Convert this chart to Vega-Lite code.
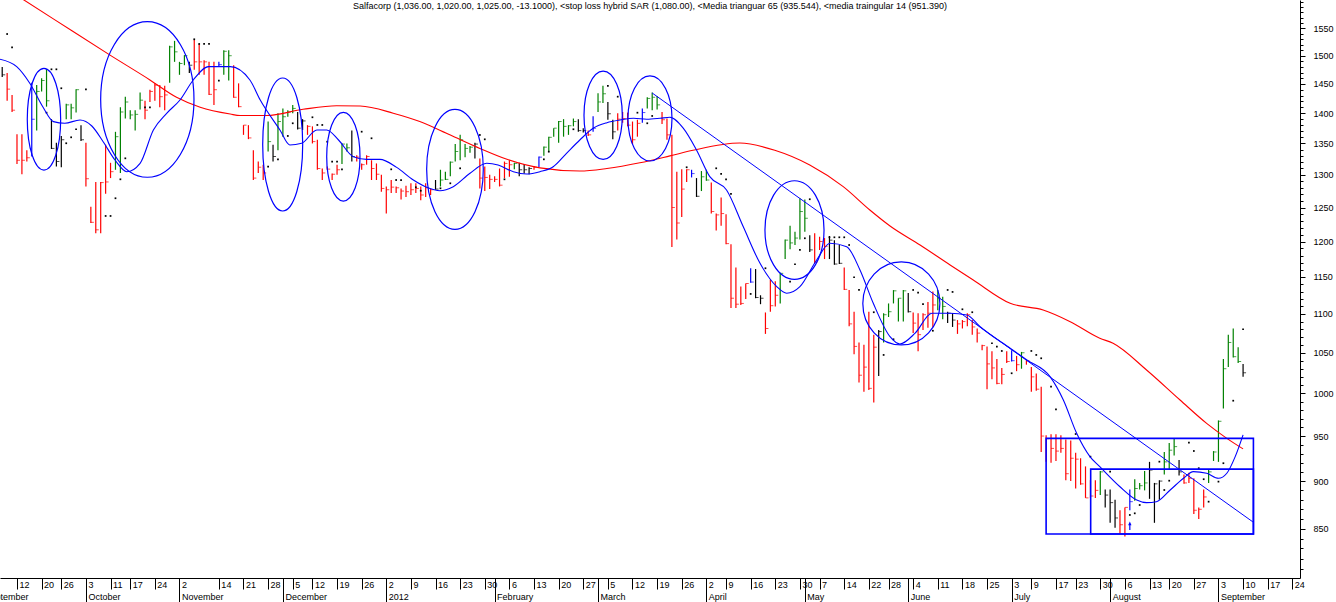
{
  "$schema": "https://vega.github.io/schema/vega-lite/v6.json",
  "width": 1300,
  "height": 578,
  "autosize": "none",
  "padding": {"left": 0, "top": 0, "right": 36, "bottom": 24},
  "background": "white",
  "title": {
    "text": "Salfacorp (1,036.00, 1,020.00, 1,025.00, -13.1000), <stop loss hybrid SAR (1,080.00), <Media trianguar 65 (935.544), <media traingular 14 (951.390)",
    "font": "Liberation Sans", "fontSize": 9, "fontWeight": "normal", "color": "#000000",
    "anchor": "middle", "offset": -11
  },
  "config": {
    "view": {"stroke": null},
    "axis": {"grid": false, "labelFont": "Liberation Sans", "labelFontSize": 9, "labelColor": "#000000",
             "tickColor": "#000000", "domainColor": "#000000", "labelOverlap": false, "labelFlush": false, "labelBound": false}
  },
  "datasets": {
    "bars": [
      {"t":-3,"h":1480,"l":1462,"c":1466,"k":"flat"},{"t":-2,"h":1469,"l":1421,"c":1441,"k":"down"},{"t":-1,"h":1431,"l":1402,"c":1405,"k":"down"},
      {"t":0,"h":1365,"l":1317,"c":1323,"k":"down"},{"t":1,"h":1365,"l":1301,"c":1323,"k":"down"},{"t":2,"h":1339,"l":1321,"c":1327,"k":"down"},
      {"t":3,"h":1452,"l":1329,"c":1390,"k":"mark"},{"t":4,"h":1448,"l":1371,"c":1437,"k":"up"},{"t":5,"h":1460,"l":1437,"c":1456,"k":"up"},
      {"t":6,"h":1476,"l":1411,"c":1421,"k":"up"},{"t":7,"h":1390,"l":1341,"c":1342,"k":"flat"},{"t":8,"h":1351,"l":1313,"c":1321,"k":"flat"},
      {"t":9,"h":1362,"l":1312,"c":1356,"k":"flat"},{"t":10,"h":1416,"l":1390,"c":1414,"k":"up"},{"t":11,"h":1416,"l":1390,"c":1409,"k":"up"},
      {"t":12,"h":1441,"l":1401,"c":1440,"k":"up"},{"t":13,"h":1380,"l":1354,"c":1356,"k":"flat"},{"t":14,"h":1351,"l":1282,"c":1294,"k":"down"},
      {"t":15,"h":1251,"l":1227,"c":1228,"k":"down"},{"t":16,"h":1289,"l":1212,"c":1217,"k":"down"},{"t":17,"h":1289,"l":1212,"c":1288,"k":"down"},
      {"t":18,"h":1348,"l":1271,"c":1289,"k":"down"},{"t":19,"h":1319,"l":1295,"c":1305,"k":"down"},{"t":20,"h":1369,"l":1308,"c":1361,"k":"up"},
      {"t":21,"h":1410,"l":1303,"c":1402,"k":"up"},{"t":22,"h":1428,"l":1391,"c":1419,"k":"up"},{"t":23,"h":1405,"l":1390,"c":1397,"k":"up"},
      {"t":24,"h":1405,"l":1371,"c":1398,"k":"up"},{"t":25,"h":1435,"l":1406,"c":1422,"k":"up"},{"t":26,"h":1421,"l":1390,"c":1405,"k":"down"},
      {"t":27,"h":1440,"l":1419,"c":1437,"k":"down"},{"t":28,"h":1451,"l":1421,"c":1448,"k":"down"},{"t":29,"h":1448,"l":1410,"c":1428,"k":"down"},
      {"t":30,"h":1447,"l":1405,"c":1431,"k":"down"},{"t":31,"h":1518,"l":1452,"c":1516,"k":"up"},{"t":32,"h":1527,"l":1489,"c":1507,"k":"up"},
      {"t":33,"h":1489,"l":1466,"c":1486,"k":"up"},{"t":34,"h":1501,"l":1483,"c":1500,"k":"up"},{"t":35,"h":1489,"l":1469,"c":1483,"k":"flat"},
      {"t":36,"h":1529,"l":1475,"c":1489,"k":"down"},{"t":37,"h":1521,"l":1466,"c":1489,"k":"down"},{"t":38,"h":1492,"l":1466,"c":1489,"k":"down"},
      {"t":39,"h":1489,"l":1431,"c":1432,"k":"down"},{"t":40,"h":1489,"l":1414,"c":1440,"k":"down"},{"t":41,"h":1489,"l":1480,"c":1484,"k":"mark"},
      {"t":42,"h":1510,"l":1466,"c":1508,"k":"up"},{"t":43,"h":1510,"l":1456,"c":1500,"k":"up"},{"t":44,"h":1483,"l":1426,"c":1427,"k":"down"},
      {"t":45,"h":1451,"l":1410,"c":1411,"k":"down"},{"t":46,"h":1380,"l":1364,"c":1380,"k":"down"},{"t":47,"h":1380,"l":1357,"c":1359,"k":"down"},
      {"t":48,"h":1339,"l":1292,"c":1295,"k":"down"},{"t":49,"h":1321,"l":1303,"c":1312,"k":"down"},{"t":50,"h":1316,"l":1292,"c":1303,"k":"down"},
      {"t":51,"h":1386,"l":1337,"c":1353,"k":"up"},{"t":52,"h":1348,"l":1321,"c":1329,"k":"flat"},{"t":53,"h":1400,"l":1339,"c":1386,"k":"up"},
      {"t":54,"h":1408,"l":1361,"c":1394,"k":"up"},{"t":55,"h":1405,"l":1394,"c":1402,"k":"up"},{"t":56,"h":1414,"l":1400,"c":1408,"k":"up"},
      {"t":57,"h":1402,"l":1373,"c":1375,"k":"flat"},{"t":58,"h":1390,"l":1372,"c":1387,"k":"flat"},{"t":59,"h":1380,"l":1364,"c":1378,"k":"down"},
      {"t":60,"h":1378,"l":1350,"c":1353,"k":"down"},{"t":61,"h":1356,"l":1308,"c":1310,"k":"down"},{"t":62,"h":1310,"l":1292,"c":1303,"k":"down"},
      {"t":63,"h":1313,"l":1308,"c":1309,"k":"down"},{"t":64,"h":1302,"l":1292,"c":1301,"k":"down"},{"t":65,"h":1316,"l":1300,"c":1308,"k":"down"},
      {"t":66,"h":1350,"l":1317,"c":1349,"k":"up"},{"t":67,"h":1350,"l":1337,"c":1343,"k":"up"},{"t":68,"h":1371,"l":1321,"c":1329,"k":"flat"},
      {"t":69,"h":1331,"l":1321,"c":1328,"k":"down"},{"t":70,"h":1318,"l":1308,"c":1316,"k":"down"},{"t":71,"h":1331,"l":1316,"c":1329,"k":"down"},
      {"t":72,"h":1323,"l":1292,"c":1310,"k":"down"},{"t":73,"h":1318,"l":1292,"c":1301,"k":"down"},{"t":74,"h":1300,"l":1274,"c":1279,"k":"down"},
      {"t":75,"h":1282,"l":1241,"c":1277,"k":"down"},{"t":76,"h":1292,"l":1272,"c":1281,"k":"down"},{"t":77,"h":1282,"l":1272,"c":1280,"k":"down"},
      {"t":78,"h":1279,"l":1262,"c":1275,"k":"down"},{"t":79,"h":1283,"l":1266,"c":1274,"k":"down"},{"t":80,"h":1287,"l":1269,"c":1277,"k":"down"},
      {"t":81,"h":1287,"l":1272,"c":1279,"k":"down"},{"t":82,"h":1282,"l":1261,"c":1269,"k":"down"},{"t":83,"h":1287,"l":1266,"c":1280,"k":"down"},
      {"t":84,"h":1279,"l":1269,"c":1277,"k":"down"},{"t":85,"h":1292,"l":1277,"c":1278,"k":"flat"},{"t":86,"h":1308,"l":1282,"c":1292,"k":"up"},
      {"t":87,"h":1305,"l":1292,"c":1293,"k":"up"},{"t":88,"h":1321,"l":1298,"c":1320,"k":"up"},{"t":89,"h":1349,"l":1321,"c":1337,"k":"up"},
      {"t":90,"h":1364,"l":1323,"c":1356,"k":"up"},{"t":91,"h":1349,"l":1328,"c":1342,"k":"up"},{"t":92,"h":1346,"l":1335,"c":1344,"k":"up"},
      {"t":93,"h":1351,"l":1326,"c":1349,"k":"flat"},{"t":94,"h":1326,"l":1279,"c":1295,"k":"down"},{"t":95,"h":1313,"l":1275,"c":1296,"k":"down"},
      {"t":96,"h":1300,"l":1278,"c":1293,"k":"down"},{"t":97,"h":1298,"l":1289,"c":1293,"k":"down"},{"t":98,"h":1310,"l":1282,"c":1284,"k":"down"},
      {"t":99,"h":1321,"l":1295,"c":1318,"k":"down"},{"t":100,"h":1323,"l":1297,"c":1316,"k":"down"},{"t":101,"h":1319,"l":1309,"c":1318,"k":"up"},
      {"t":102,"h":1319,"l":1298,"c":1308,"k":"flat"},{"t":103,"h":1317,"l":1302,"c":1308,"k":"flat"},{"t":104,"h":1312,"l":1301,"c":1310,"k":"flat"},
      {"t":105,"h":1314,"l":1308,"c":1312,"k":"down"},{"t":106,"h":1329,"l":1312,"c":1328,"k":"mark"},{"t":107,"h":1345,"l":1330,"c":1344,"k":"up"},
      {"t":108,"h":1361,"l":1337,"c":1360,"k":"up"},{"t":109,"h":1375,"l":1361,"c":1375,"k":"up"},{"t":110,"h":1387,"l":1351,"c":1386,"k":"up"},
      {"t":111,"h":1390,"l":1361,"c":1378,"k":"up"},{"t":112,"h":1380,"l":1364,"c":1379,"k":"up"},{"t":113,"h":1391,"l":1378,"c":1386,"k":"up"},
      {"t":114,"h":1390,"l":1369,"c":1371,"k":"flat"},{"t":115,"h":1375,"l":1368,"c":1371,"k":"flat"},{"t":116,"h":1371,"l":1362,"c":1364,"k":"down"},
      {"t":117,"h":1395,"l":1369,"c":1375,"k":"mark"},{"t":118,"h":1434,"l":1402,"c":1419,"k":"up"},{"t":119,"h":1447,"l":1417,"c":1433,"k":"up"},
      {"t":120,"h":1419,"l":1389,"c":1399,"k":"flat"},{"t":121,"h":1389,"l":1357,"c":1369,"k":"flat"},{"t":122,"h":1400,"l":1371,"c":1390,"k":"down"},
      {"t":123,"h":1402,"l":1384,"c":1391,"k":"down"},{"t":124,"h":1401,"l":1378,"c":1380,"k":"down"},{"t":125,"h":1386,"l":1349,"c":1356,"k":"down"},
      {"t":126,"h":1389,"l":1361,"c":1383,"k":"down"},{"t":127,"h":1408,"l":1384,"c":1401,"k":"mark"},{"t":128,"h":1427,"l":1408,"c":1425,"k":"up"},
      {"t":129,"h":1435,"l":1405,"c":1427,"k":"up"},{"t":130,"h":1429,"l":1406,"c":1414,"k":"up"},{"t":131,"h":1402,"l":1382,"c":1389,"k":"down"},
      {"t":132,"h":1391,"l":1356,"c":1364,"k":"down"},{"t":133,"h":1364,"l":1192,"c":1250,"k":"down"},{"t":134,"h":1305,"l":1203,"c":1227,"k":"down"},
      {"t":135,"h":1309,"l":1236,"c":1278,"k":"down"},{"t":136,"h":1309,"l":1289,"c":1308,"k":"down"},{"t":137,"h":1308,"l":1296,"c":1302,"k":"mark"},
      {"t":138,"h":1295,"l":1266,"c":1267,"k":"flat"},{"t":139,"h":1306,"l":1275,"c":1297,"k":"up"},{"t":140,"h":1308,"l":1291,"c":1292,"k":"up"},
      {"t":141,"h":1288,"l":1241,"c":1244,"k":"down"},{"t":142,"h":1241,"l":1216,"c":1239,"k":"down"},{"t":143,"h":1265,"l":1223,"c":1241,"k":"down"},
      {"t":144,"h":1240,"l":1196,"c":1197,"k":"down"},{"t":145,"h":1196,"l":1108,"c":1121,"k":"down"},{"t":146,"h":1163,"l":1108,"c":1113,"k":"down"},
      {"t":147,"h":1137,"l":1112,"c":1114,"k":"down"},{"t":148,"h":1141,"l":1120,"c":1141,"k":"down"},{"t":149,"h":1162,"l":1142,"c":1143,"k":"mark"},
      {"t":150,"h":1161,"l":1121,"c":1122,"k":"flat"},{"t":151,"h":1125,"l":1113,"c":1121,"k":"flat"},{"t":152,"h":1102,"l":1074,"c":1081,"k":"down"},
      {"t":153,"h":1146,"l":1103,"c":1111,"k":"down"},{"t":154,"h":1144,"l":1110,"c":1125,"k":"down"},{"t":155,"h":1156,"l":1114,"c":1155,"k":"up"},
      {"t":156,"h":1203,"l":1175,"c":1202,"k":"up"},{"t":157,"h":1223,"l":1189,"c":1198,"k":"up"},{"t":158,"h":1214,"l":1195,"c":1205,"k":"up"},
      {"t":159,"h":1264,"l":1203,"c":1244,"k":"up"},{"t":160,"h":1262,"l":1214,"c":1234,"k":"up"},{"t":161,"h":1209,"l":1185,"c":1188,"k":"flat"},
      {"t":162,"h":1212,"l":1169,"c":1171,"k":"down"},{"t":163,"h":1207,"l":1188,"c":1200,"k":"down"},{"t":164,"h":1205,"l":1175,"c":1193,"k":"down"},
      {"t":165,"h":1208,"l":1175,"c":1202,"k":"flat"},{"t":166,"h":1202,"l":1167,"c":1168,"k":"flat"},{"t":167,"h":1195,"l":1168,"c":1169,"k":"flat"},
      {"t":168,"h":1163,"l":1132,"c":1133,"k":"down"},{"t":169,"h":1132,"l":1084,"c":1087,"k":"down"},{"t":170,"h":1103,"l":1048,"c":1058,"k":"down"},
      {"t":171,"h":1063,"l":1013,"c":1022,"k":"down"},{"t":172,"h":1060,"l":1002,"c":1032,"k":"down"},{"t":173,"h":1103,"l":1004,"c":1006,"k":"down"},
      {"t":174,"h":1073,"l":989,"c":1057,"k":"down"},{"t":175,"h":1079,"l":1021,"c":1077,"k":"flat"},{"t":176,"h":1101,"l":1063,"c":1099,"k":"up"},
      {"t":177,"h":1114,"l":1096,"c":1103,"k":"up"},{"t":178,"h":1132,"l":1114,"c":1131,"k":"up"},{"t":179,"h":1121,"l":1090,"c":1121,"k":"up"},
      {"t":180,"h":1132,"l":1090,"c":1131,"k":"up"},{"t":181,"h":1128,"l":1102,"c":1103,"k":"flat"},{"t":182,"h":1102,"l":1075,"c":1088,"k":"down"},
      {"t":183,"h":1101,"l":1052,"c":1073,"k":"down"},{"t":184,"h":1101,"l":1079,"c":1099,"k":"down"},{"t":185,"h":1116,"l":1082,"c":1101,"k":"down"},
      {"t":186,"h":1130,"l":1083,"c":1112,"k":"down"},{"t":187,"h":1132,"l":1105,"c":1121,"k":"up"},{"t":188,"h":1123,"l":1093,"c":1110,"k":"up"},
      {"t":189,"h":1103,"l":1088,"c":1101,"k":"flat"},{"t":190,"h":1101,"l":1083,"c":1092,"k":"flat"},{"t":191,"h":1092,"l":1074,"c":1087,"k":"down"},
      {"t":192,"h":1092,"l":1081,"c":1090,"k":"down"},{"t":193,"h":1101,"l":1084,"c":1099,"k":"down"},{"t":194,"h":1092,"l":1073,"c":1083,"k":"down"},
      {"t":195,"h":1081,"l":1063,"c":1075,"k":"down"},{"t":196,"h":1060,"l":1053,"c":1059,"k":"down"},{"t":197,"h":1058,"l":1005,"c":1036,"k":"down"},
      {"t":198,"h":1052,"l":1017,"c":1031,"k":"down"},{"t":199,"h":1042,"l":1011,"c":1012,"k":"down"},{"t":200,"h":1031,"l":1011,"c":1023,"k":"down"},
      {"t":201,"h":1052,"l":1037,"c":1039,"k":"down"},{"t":202,"h":1053,"l":1039,"c":1040,"k":"mark"},{"t":203,"h":1046,"l":1027,"c":1035,"k":"down"},
      {"t":204,"h":1051,"l":1030,"c":1050,"k":"up"},{"t":205,"h":1041,"l":1035,"c":1040,"k":"down"},{"t":206,"h":1032,"l":1002,"c":1020,"k":"down"},
      {"t":207,"h":1024,"l":1003,"c":1005,"k":"down"},{"t":208,"h":1008,"l":932,"c":950,"k":"down"},{"t":209,"h":951,"l":921,"c":947,"k":"down"},
      {"t":210,"h":952,"l":920,"c":936,"k":"down"},{"t":211,"h":952,"l":922,"c":933,"k":"down"},{"t":212,"h":951,"l":931,"c":936,"k":"down"},
      {"t":213,"h":946,"l":901,"c":908,"k":"down"},{"t":214,"h":945,"l":900,"c":925,"k":"down"},{"t":215,"h":931,"l":892,"c":924,"k":"down"},
      {"t":216,"h":925,"l":896,"c":897,"k":"down"},{"t":217,"h":916,"l":882,"c":882,"k":"down"},{"t":218,"h":901,"l":882,"c":884,"k":"down"},
      {"t":219,"h":901,"l":882,"c":890,"k":"down"},{"t":220,"h":911,"l":885,"c":910,"k":"up"},{"t":221,"h":891,"l":872,"c":885,"k":"flat"},
      {"t":222,"h":891,"l":856,"c":877,"k":"flat"},{"t":223,"h":880,"l":851,"c":861,"k":"flat"},{"t":224,"h":869,"l":845,"c":854,"k":"down"},
      {"t":225,"h":872,"l":842,"c":872,"k":"down"},{"t":226,"h":891,"l":869,"c":878,"k":"mark"},{"t":227,"h":902,"l":879,"c":892,"k":"up"},
      {"t":228,"h":898,"l":891,"c":895,"k":"up"},{"t":229,"h":911,"l":890,"c":898,"k":"up"},{"t":230,"h":921,"l":881,"c":912,"k":"flat"},
      {"t":231,"h":898,"l":856,"c":897,"k":"flat"},{"t":232,"h":901,"l":880,"c":900,"k":"flat"},{"t":233,"h":932,"l":907,"c":921,"k":"up"},
      {"t":234,"h":942,"l":913,"c":934,"k":"up"},{"t":235,"h":947,"l":928,"c":938,"k":"up"},{"t":236,"h":923,"l":906,"c":910,"k":"flat"},
      {"t":237,"h":907,"l":897,"c":898,"k":"down"},{"t":238,"h":909,"l":898,"c":903,"k":"down"},{"t":239,"h":903,"l":865,"c":869,"k":"down"},
      {"t":240,"h":872,"l":860,"c":870,"k":"down"},{"t":241,"h":891,"l":872,"c":883,"k":"down"},{"t":242,"h":912,"l":898,"c":910,"k":"up"},
      {"t":243,"h":933,"l":922,"c":932,"k":"up"},{"t":244,"h":968,"l":921,"c":967,"k":"up"},{"t":245,"h":1042,"l":982,"c":1030,"k":"up"},
      {"t":246,"h":1073,"l":1032,"c":1063,"k":"up"},{"t":247,"h":1081,"l":1044,"c":1045,"k":"up"},{"t":248,"h":1057,"l":1037,"c":1039,"k":"up"},
      {"t":249,"h":1036,"l":1020,"c":1025,"k":"flat"}
    ],
    "sar": [
      {"t":-2,"p":1539.6},{"t":-1,"p":1515.2},{"t":6,"p":1400.8},{"t":7,"p":1475.7},{"t":8,"p":1475.7},{"t":9,"p":1442.5},
      {"t":10,"p":1350.3},{"t":11,"p":1360},{"t":12,"p":1373.2},{"t":14,"p":1440.7},{"t":18,"p":1237.4},{"t":19,"p":1237.4},
      {"t":20,"p":1264},{"t":21,"p":1293.1},{"t":22,"p":1326.1},{"t":26,"p":1409.9},{"t":27,"p":1409.9},{"t":36,"p":1529.9},
      {"t":37,"p":1521.3},{"t":38,"p":1521.3},{"t":39,"p":1521.3},{"t":41,"p":1455.7},{"t":51,"p":1312.8},{"t":53,"p":1324.5},
      {"t":55,"p":1362.2},{"t":56,"p":1383.1},{"t":60,"p":1393.1},{"t":61,"p":1380.3},{"t":62,"p":1380.3},{"t":63,"p":1352.8},
      {"t":64,"p":1320.7},{"t":65,"p":1320.7},{"t":66,"p":1308.7},{"t":70,"p":1369.2},{"t":72,"p":1358.4},{"t":76,"p":1308.7},
      {"t":77,"p":1292},{"t":78,"p":1292},{"t":81,"p":1280.8},{"t":82,"p":1275.5},{"t":86,"p":1279.2},{"t":88,"p":1286.9},
      {"t":90,"p":1310.3},{"t":94,"p":1363.8},{"t":95,"p":1356.7},{"t":99,"p":1293.1},{"t":107,"p":1324.5},{"t":108,"p":1336.7},
      {"t":113,"p":1373.2},{"t":120,"p":1446.5},{"t":122,"p":1428},{"t":126,"p":1400.8},{"t":128,"p":1383.1},{"t":129,"p":1395.3},
      {"t":136,"p":1311.9},{"t":142,"p":1310.3},{"t":143,"p":1301.4},{"t":144,"p":1293.1},{"t":145,"p":1270.5},{"t":149,"p":1126.8},
      {"t":152,"p":1162.1},{"t":157,"p":1143.5},{"t":158,"p":1167.7},{"t":159,"p":1187.9},{"t":160,"p":1204.7},{"t":161,"p":1262.5},
      {"t":165,"p":1206.1},{"t":166,"p":1206.1},{"t":167,"p":1206.1},{"t":168,"p":1206.1},{"t":169,"p":1195},{"t":170,"p":1149.6},
      {"t":171,"p":1132.2},{"t":174,"p":1102.3},{"t":176,"p":1047.2},{"t":178,"p":1067.1},{"t":182,"p":1132.2},{"t":183,"p":1128.5},
      {"t":184,"p":1113.2},{"t":186,"p":1078.1},{"t":189,"p":1132.2},{"t":190,"p":1129.5},{"t":192,"p":1106.2},{"t":194,"p":1102.3},
      {"t":198,"p":1062},{"t":199,"p":1057.6},{"t":200,"p":1052.2},{"t":202,"p":1024.4},{"t":206,"p":1052.2},{"t":207,"p":1047.2},
      {"t":208,"p":1043},{"t":210,"p":1008},{"t":211,"p":981},{"t":215,"p":952.3},{"t":218,"p":926.8},{"t":222,"p":910.2},
      {"t":226,"p":864.1},{"t":227,"p":865.8},{"t":228,"p":874.5},{"t":232,"p":921.2},{"t":233,"p":890.4},{"t":234,"p":900.4},
      {"t":238,"p":942.4},{"t":239,"p":933.1},{"t":240,"p":914},{"t":241,"p":902},{"t":242,"p":878},{"t":244,"p":899.4},
      {"t":245,"p":919.5},{"t":247,"p":991.2},{"t":249,"p":1080}
    ],
    "ma65": [
      {"t":-1.4,"p":1621},{"t":7.7,"p":1566},{"t":18.9,"p":1501},{"t":27,"p":1457},{"t":32.4,"p":1427},{"t":37.2,"p":1410},
      {"t":43.3,"p":1398.5},{"t":45.3,"p":1396},{"t":50.7,"p":1396},{"t":58.1,"p":1406.5},{"t":64.9,"p":1412.6},{"t":69.7,"p":1412},
      {"t":76.4,"p":1400},{"t":81.8,"p":1386},{"t":87.9,"p":1364},{"t":94,"p":1342},{"t":99.5,"p":1324.5},{"t":106.2,"p":1311},
      {"t":114.3,"p":1306},{"t":119.8,"p":1310},{"t":126.5,"p":1319},{"t":132.6,"p":1330},{"t":137.3,"p":1339},{"t":146.8,"p":1350.7},
      {"t":153.9,"p":1339},{"t":161,"p":1315.5},{"t":167.8,"p":1281.7},{"t":173.2,"p":1246.3},{"t":177.3,"p":1222.6},{"t":183.4,"p":1195},
      {"t":189.5,"p":1166.7},{"t":194.2,"p":1145.8},{"t":201.7,"p":1114.2},{"t":208.4,"p":1105.3},{"t":213.9,"p":1089.9},{"t":219.9,"p":1068.4},
      {"t":222.6,"p":1062},{"t":229.4,"p":1028.4},{"t":236.2,"p":992},{"t":241.6,"p":964.6},{"t":245.7,"p":947.4},{"t":249,"p":935.5}
    ],
    "ma14": [
      {"t":-3.45,"p":1493.6},{"t":-0.06,"p":1480.4},{"t":2.6,"p":1451.2},{"t":5.3,"p":1409.9},{"t":7.4,"p":1385.8},{"t":9.7,"p":1383.1},
      {"t":12.8,"p":1388.6},{"t":15.2,"p":1378.6},{"t":17.5,"p":1352.8},{"t":19.9,"p":1323.4},{"t":22.3,"p":1305},{"t":25,"p":1318.2},
      {"t":27.7,"p":1372},{"t":30.4,"p":1399.8},{"t":33.1,"p":1422.3},{"t":35.8,"p":1456.9},{"t":38.9,"p":1480.4},{"t":43.3,"p":1480.4},
      {"t":47.3,"p":1456.9},{"t":49.4,"p":1422.3},{"t":53.4,"p":1372},{"t":55.4,"p":1347.5},{"t":57.8,"p":1350.2},{"t":60.9,"p":1372},
      {"t":62.9,"p":1372},{"t":65.3,"p":1355.6},{"t":68.3,"p":1328.7},{"t":71,"p":1324.5},{"t":73.7,"p":1324.5},{"t":77.1,"p":1311.8},
      {"t":80.5,"p":1292},{"t":83.2,"p":1280.8},{"t":85.9,"p":1275.5},{"t":88.6,"p":1281.7},{"t":92,"p":1302.5},{"t":95.4,"p":1318.2},
      {"t":97.7,"p":1315.5},{"t":100.8,"p":1305},{"t":103.5,"p":1301.4},{"t":106.2,"p":1305},{"t":108.9,"p":1312.8},{"t":111.6,"p":1334.1},
      {"t":114.3,"p":1355.6},{"t":117,"p":1374.8},{"t":119.8,"p":1384.1},{"t":122.5,"p":1388.6},{"t":125.2,"p":1391.4},{"t":127.9,"p":1389.8},
      {"t":130.6,"p":1391.4},{"t":132.6,"p":1393.1},{"t":135.3,"p":1375},{"t":138,"p":1339.4},{"t":140.7,"p":1297.2},{"t":144.1,"p":1276.6},
      {"t":147.5,"p":1221.4},{"t":150.9,"p":1169},{"t":154.3,"p":1136.7},{"t":156.3,"p":1127.7},{"t":159,"p":1136.7},{"t":162.4,"p":1173.7},
      {"t":165.1,"p":1197.5},{"t":168.5,"p":1192.5},{"t":171.2,"p":1159.7},{"t":173.9,"p":1114.2},{"t":177.3,"p":1070.4},{"t":179.3,"p":1061.1},
      {"t":182.4,"p":1075},{"t":185.8,"p":1100.9},{"t":189.5,"p":1100.9},{"t":192.9,"p":1098.7},{"t":195.6,"p":1083.3},{"t":201.7,"p":1055.6},
      {"t":205.1,"p":1040.9},{"t":209.8,"p":1020.2},{"t":212.5,"p":992},{"t":215.2,"p":953.1},{"t":217.9,"p":926.8},{"t":219.9,"p":915.7},
      {"t":224,"p":893.9},{"t":227.4,"p":879.8},{"t":229.4,"p":877},{"t":231.4,"p":878},{"t":234.2,"p":890.4},{"t":236.9,"p":903},
      {"t":238.9,"p":910.3},{"t":241.6,"p":908.5},{"t":244,"p":903},{"t":245.7,"p":908.5},{"t":247.4,"p":926.8},{"t":249,"p":951.4}
    ],
    "trend": [{"t1":129.0,"p1":1434.3,"t2":251.0,"p2":856.9}],
    "boxes": [
      {"t1":209.0,"t2":251.1,"ph":947.4,"pl":844.6},
      {"t1":218.05,"t2":251.1,"ph":913,"pl":844.6}
    ],
    "ellipses": [
      {"tc":5.48,"pc":1389.9,"t1":2.09,"t2":8.87,"ph":1477.5,"pl":1307.6},
      {"tc":26.47,"pc":1423.2,"t1":17.0,"t2":35.95,"ph":1562.5,"pl":1296.2},
      {"tc":53.96,"pc":1348.3,"t1":49.9,"t2":58.02,"ph":1460.4,"pl":1244.8},
      {"tc":66.28,"pc":1328.7,"t1":62.9,"t2":69.66,"ph":1401.5,"pl":1259.9},
      {"tc":88.95,"pc":1308.7,"t1":83.2,"t2":94.7,"ph":1406.5,"pl":1217.7},
      {"tc":119.04,"pc":1396.6,"t1":115.15,"t2":122.93,"ph":1472.7,"pl":1324.5},
      {"tc":128.55,"pc":1391.1,"t1":124.08,"t2":133.02,"ph":1463.9,"pl":1321.8},
      {"tc":157.9,"pc":1216.7,"t1":151.9,"t2":163.9,"ph":1290.9,"pl":1146.8},
      {"tc":179.6,"pc":1114,"t1":171.8,"t2":187.45,"ph":1170.9,"pl":1059.8}
    ],
    "arrows": [{"t":226,"p":853}]
  },
  "resolve": {"axis": {"x": "independent", "y": "independent"}},
  "layer": [
    {
      "data": {"name": "bars"},
      "mark": {"type": "rule", "strokeWidth": 1.2},
      "encoding": {
        "x": {"field": "t", "type": "quantitative",
              "scale": {"domain": [-3.45, 260.56], "nice": false, "zero": false},
              "axis": {"orient": "bottom", "title": null, "tickSize": 11, "labelAlign": "left", "labelBaseline": "top",
                       "labelPadding": -9, "labelOffset": 2,
                       "values": [0,5,9,14,19,23,28,33,41,46,51,56,60,65,70,75,80,85,90,95,100,105,110,115,120,125,130,135,140,144,149,154,159,163,168,173,177,182,187,192,197,202,206,211,215,220,225,230,234,239,244,249,254,259],
                       "labelExpr": "['12','20','26','3','11','17','24','2','14','21','28','5','12','19','26','2','9','16','23','30','6','13','20','27','5','12','19','26','2','9','16','23','30','7','14','22','28','4','11','18','25','3','9','17','23','30','6','13','20','27','3','10','17','24'][indexof([0,5,9,14,19,23,28,33,41,46,51,56,60,65,70,75,80,85,90,95,100,105,110,115,120,125,130,135,140,144,149,154,159,163,168,173,177,182,187,192,197,202,206,211,215,220,225,230,234,239,244,249,254,259], datum.value)]"}},
        "y": {"field": "h", "type": "quantitative",
              "scale": {"type": "log", "domain": [801.1, 1603.8], "nice": false},
              "axis": {"orient": "right", "title": null, "tickSize": 5, "labelPadding": 8, "format": "d",
                       "values": [850,900,950,1000,1050,1100,1150,1200,1250,1300,1350,1400,1450,1500,1550]}},
        "y2": {"field": "l"},
        "color": {"field": "k", "type": "nominal", "legend": null,
                  "scale": {"domain": ["up", "down", "flat", "mark"], "range": ["#008000", "#FF0000", "#000000", "#0000FF"]}}
      }
    },
    {
      "data": {"name": "bars"},
      "mark": {"type": "tick", "orient": "horizontal", "size": 3, "thickness": 1, "xOffset": 1.5},
      "encoding": {
        "x": {"field": "t", "type": "quantitative",
              "axis": {"orient": "bottom", "title": null, "domain": false, "tickSize": 24, "labelAlign": "left", "labelBaseline": "top",
                       "labelPadding": -10,
                       "labelOffset": {"condition": {"test": "datum.value < 0", "value": -16}, "value": 2},
                       "tickOpacity": {"condition": {"test": "datum.value < 0", "value": 0}, "value": 1},
                       "values": [-3.45,14,33,54,75,97,118,140,160,181,202,222,244],
                       "labelExpr": "['September','October','November','December','2012','February','March','April','May','June','July','August','September'][indexof([-3.45,14,33,54,75,97,118,140,160,181,202,222,244], datum.value)]"}},
        "y": {"field": "c", "type": "quantitative",
              "axis": {"orient": "right", "title": null, "labels": false, "domain": false, "tickSize": 3,
                       "values": [810,820,830,840,860,870,880,890,910,920,930,940,960,970,980,990,1010,1020,1030,1040,1060,1070,1080,1090,1110,1120,1130,1140,1160,1170,1180,1190,1210,1220,1230,1240,1260,1270,1280,1290,1310,1320,1330,1340,1360,1370,1380,1390,1410,1420,1430,1440,1460,1470,1480,1490,1510,1520,1530,1540,1560,1570,1580,1590,1600]}},
        "color": {"field": "k", "type": "nominal", "legend": null}
      }
    },
    {
      "data": {"name": "sar"},
      "mark": {"type": "square", "size": 3, "color": "#000000", "opacity": 1},
      "encoding": {
        "x": {"field": "t", "type": "quantitative", "axis": null},
        "y": {"field": "p", "type": "quantitative", "axis": null}
      }
    },
    {
      "data": {"name": "ma65"},
      "mark": {"type": "line", "color": "#FF0000", "strokeWidth": 1.1, "interpolate": "monotone", "clip": true},
      "encoding": {
        "x": {"field": "t", "type": "quantitative", "axis": null},
        "y": {"field": "p", "type": "quantitative", "axis": null}
      }
    },
    {
      "data": {"name": "ma14"},
      "mark": {"type": "line", "color": "#0000FF", "strokeWidth": 1.1, "interpolate": "monotone", "clip": true},
      "encoding": {
        "x": {"field": "t", "type": "quantitative", "axis": null},
        "y": {"field": "p", "type": "quantitative", "axis": null}
      }
    },
    {
      "data": {"name": "trend"},
      "mark": {"type": "rule", "color": "#0000FF", "strokeWidth": 1},
      "encoding": {
        "x": {"field": "t1", "type": "quantitative", "axis": null},
        "x2": {"field": "t2"},
        "y": {"field": "p1", "type": "quantitative", "axis": null},
        "y2": {"field": "p2"}
      }
    },
    {
      "data": {"name": "boxes"},
      "mark": {"type": "rect", "fill": null, "fillOpacity": 0, "stroke": "#0000FF", "strokeWidth": 1.6},
      "encoding": {
        "x": {"field": "t1", "type": "quantitative", "axis": null},
        "x2": {"field": "t2"},
        "y": {"field": "ph", "type": "quantitative", "axis": null},
        "y2": {"field": "pl"}
      }
    },
    {
      "data": {"name": "ellipses"},
      "mark": {"type": "point", "filled": false, "color": "#0000FF", "strokeWidth": 1.2, "opacity": 1, "clip": true,
               "shape": {"expr": "'M0,-1A' + ((scale('x', datum.t2) - scale('x', datum.t1)) / (scale('y', datum.pl) - scale('y', datum.ph))) + ',1 0 1,1 0,1A' + ((scale('x', datum.t2) - scale('x', datum.t1)) / (scale('y', datum.pl) - scale('y', datum.ph))) + ',1 0 1,1 0,-1Z'"},
               "size": {"expr": "pow(scale('y', datum.pl) - scale('y', datum.ph), 2)"}},
      "encoding": {
        "x": {"field": "tc", "type": "quantitative", "axis": null},
        "y": {"field": "pc", "type": "quantitative", "axis": null}
      }
    },
    {
      "data": {"name": "arrows"},
      "mark": {"type": "point", "shape": "arrow", "filled": true, "color": "#0000FF", "size": 70, "opacity": 1},
      "encoding": {
        "x": {"field": "t", "type": "quantitative", "axis": null},
        "y": {"field": "p", "type": "quantitative", "axis": null}
      }
    }
  ]
}
